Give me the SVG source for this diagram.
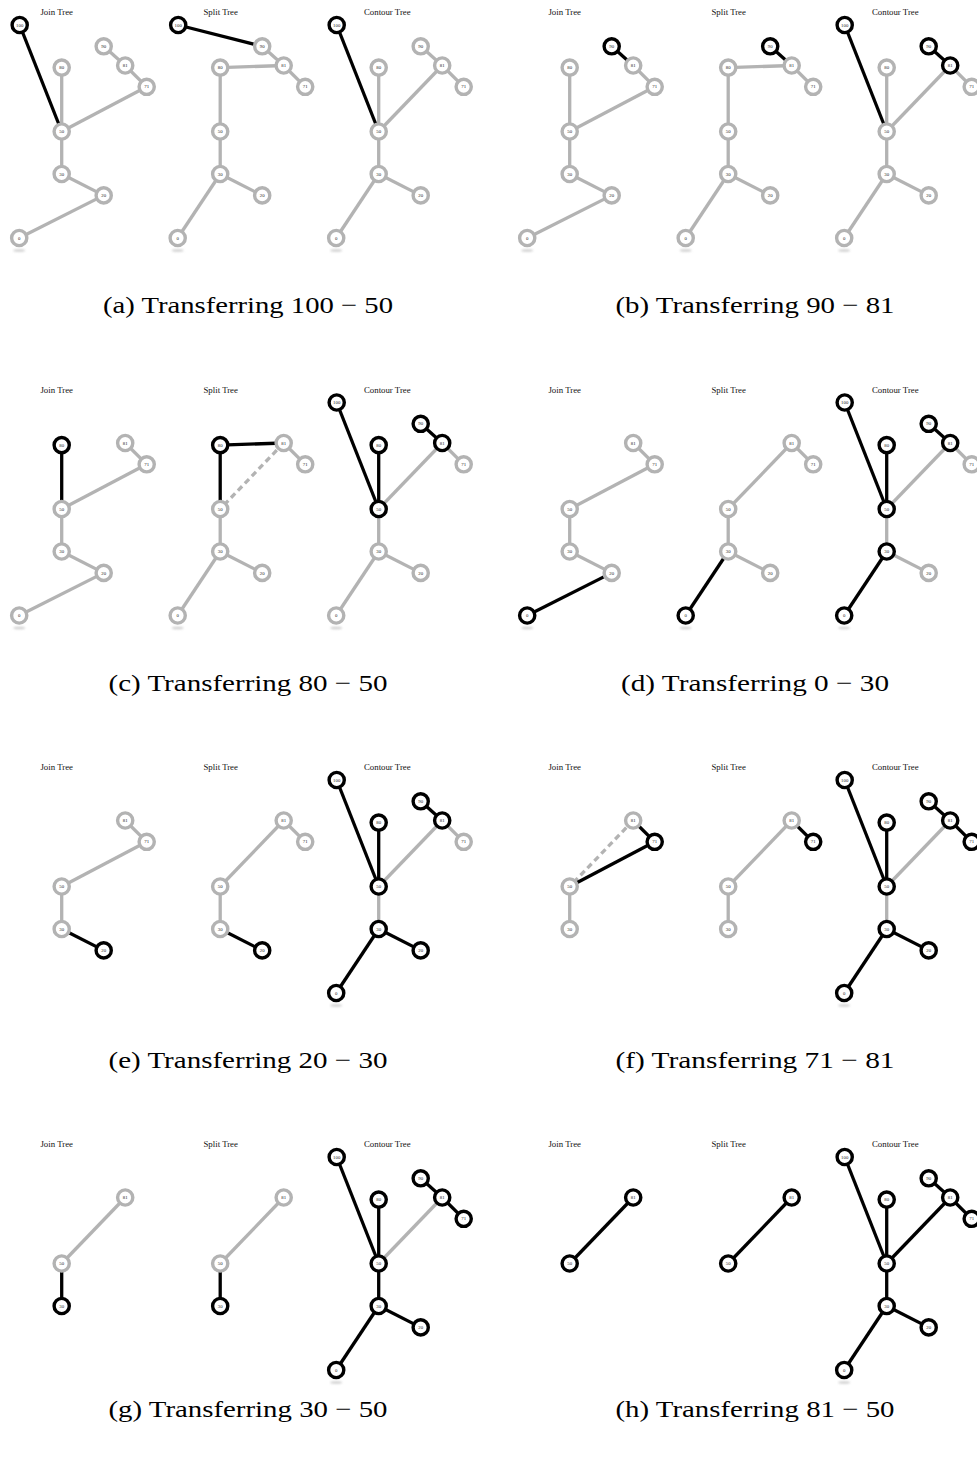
<svg xmlns="http://www.w3.org/2000/svg" width="977" height="1457" viewBox="0 0 977 1457">
  <defs>
    <filter id="soft" x="-50%" y="-200%" width="200%" height="500%">
      <feGaussianBlur stdDeviation="0.8"/>
    </filter>
  </defs>
  <style>
    line { stroke-width: 3.3; fill: none; }
    .eg { stroke: #b3b3b3; }
    .ek { stroke: #000; }
    .ed { stroke: #b3b3b3; stroke-dasharray: 6 4; }
    circle { fill: #fff; stroke-width: 3.4; }
    .ng circle { stroke: #b3b3b3; }
    .nk circle { stroke: #000; }
    .lbl { font-family: "Liberation Serif", serif; font-size: 4.8px; text-anchor: middle; fill: #222; }
    .ttl { font-family: "Liberation Serif", serif; font-size: 8.8px; text-anchor: middle; fill: #111; }
    .cap { font-family: "Liberation Serif", serif; font-size: 24px; text-anchor: middle; fill: #000; }
    .shadow { fill: #cfcfcf; filter: url(#soft); }
  </style>
  <rect width="977" height="1457" fill="#fff"/>

  <!-- ===== (a) ===== -->
  <g id="a-join" transform="translate(61.7,0)">
    <text class="ttl" x="-5" y="15">Join Tree</text>
    <g id="a-join-edges">
      <line class="eg" x1="42" y1="46.3" x2="63.5" y2="65.5"/>
      <line class="eg" x1="63.5" y1="65.5" x2="85" y2="86.8"/>
      <line class="eg" x1="85" y1="86.8" x2="0" y2="131.5"/>
      <line class="eg" x1="0" y1="67.6" x2="0" y2="131.5"/>
      <line class="eg" x1="0" y1="131.5" x2="0" y2="174"/>
      <line class="eg" x1="0" y1="174" x2="42" y2="195.4"/>
      <line class="eg" x1="42" y1="195.4" x2="-42.5" y2="238"/>
      <line class="ek" x1="-42" y1="25" x2="0" y2="131.5"/>
    </g>
    <g id="a-join-100" class="nk" transform="translate(-42,25)"><circle r="7.6"/><text class="lbl" y="1.6">100</text></g>
    <g id="a-join-90" class="ng" transform="translate(42,46.3)"><circle r="7.6"/><text class="lbl" y="1.6">90</text></g>
    <g id="a-join-81" class="ng" transform="translate(63.5,65.5)"><circle r="7.6"/><text class="lbl" y="1.6">81</text></g>
    <g id="a-join-80" class="ng" transform="translate(0,67.6)"><circle r="7.6"/><text class="lbl" y="1.6">80</text></g>
    <g id="a-join-71" class="ng" transform="translate(85,86.8)"><circle r="7.6"/><text class="lbl" y="1.6">71</text></g>
    <g id="a-join-50" class="ng" transform="translate(0,131.5)"><circle r="7.6"/><text class="lbl" y="1.6">50</text></g>
    <g id="a-join-30" class="ng" transform="translate(0,174)"><circle r="7.6"/><text class="lbl" y="1.6">30</text></g>
    <g id="a-join-20" class="ng" transform="translate(42,195.4)"><circle r="7.6"/><text class="lbl" y="1.6">20</text></g>
    <g id="a-join-0" class="ng" transform="translate(-42.5,238)"><ellipse class="shadow" cx="0" cy="12.5" rx="6" ry="1.3"/><circle r="7.6"/><text class="lbl" y="1.6">0</text></g>
  </g>
  <g id="a-split" transform="translate(220.2,0)">
    <text class="ttl" x="0.5" y="15">Split Tree</text>
    <g id="a-split-edges">
      <line class="eg" x1="42" y1="46.3" x2="63.5" y2="65.5"/>
      <line class="eg" x1="63.5" y1="65.5" x2="0" y2="67.6"/>
      <line class="eg" x1="63.5" y1="65.5" x2="85" y2="86.8"/>
      <line class="eg" x1="0" y1="67.6" x2="0" y2="131.5"/>
      <line class="eg" x1="0" y1="131.5" x2="0" y2="174"/>
      <line class="eg" x1="0" y1="174" x2="42" y2="195.4"/>
      <line class="eg" x1="0" y1="174" x2="-42.5" y2="238"/>
      <line class="ek" x1="-42" y1="25" x2="42" y2="46.3"/>
    </g>
    <g id="a-split-100" class="nk" transform="translate(-42,25)"><circle r="7.6"/><text class="lbl" y="1.6">100</text></g>
    <g id="a-split-90" class="ng" transform="translate(42,46.3)"><circle r="7.6"/><text class="lbl" y="1.6">90</text></g>
    <g id="a-split-81" class="ng" transform="translate(63.5,65.5)"><circle r="7.6"/><text class="lbl" y="1.6">81</text></g>
    <g id="a-split-80" class="ng" transform="translate(0,67.6)"><circle r="7.6"/><text class="lbl" y="1.6">80</text></g>
    <g id="a-split-71" class="ng" transform="translate(85,86.8)"><circle r="7.6"/><text class="lbl" y="1.6">71</text></g>
    <g id="a-split-50" class="ng" transform="translate(0,131.5)"><circle r="7.6"/><text class="lbl" y="1.6">50</text></g>
    <g id="a-split-30" class="ng" transform="translate(0,174)"><circle r="7.6"/><text class="lbl" y="1.6">30</text></g>
    <g id="a-split-20" class="ng" transform="translate(42,195.4)"><circle r="7.6"/><text class="lbl" y="1.6">20</text></g>
    <g id="a-split-0" class="ng" transform="translate(-42.5,238)"><ellipse class="shadow" cx="0" cy="12.5" rx="6" ry="1.3"/><circle r="7.6"/><text class="lbl" y="1.6">0</text></g>
  </g>
  <g id="a-contour" transform="translate(378.7,0)">
    <text class="ttl" x="8.6" y="15">Contour Tree</text>
    <g id="a-contour-edges">
      <line class="eg" x1="42" y1="46.3" x2="63.5" y2="65.5"/>
      <line class="eg" x1="63.5" y1="65.5" x2="0" y2="131.5"/>
      <line class="eg" x1="63.5" y1="65.5" x2="85" y2="86.8"/>
      <line class="eg" x1="0" y1="67.6" x2="0" y2="131.5"/>
      <line class="eg" x1="0" y1="131.5" x2="0" y2="174"/>
      <line class="eg" x1="0" y1="174" x2="42" y2="195.4"/>
      <line class="eg" x1="0" y1="174" x2="-42.5" y2="238"/>
      <line class="ek" x1="-42" y1="25" x2="0" y2="131.5"/>
    </g>
    <g id="a-contour-100" class="nk" transform="translate(-42,25)"><circle r="7.6"/><text class="lbl" y="1.6">100</text></g>
    <g id="a-contour-90" class="ng" transform="translate(42,46.3)"><circle r="7.6"/><text class="lbl" y="1.6">90</text></g>
    <g id="a-contour-81" class="ng" transform="translate(63.5,65.5)"><circle r="7.6"/><text class="lbl" y="1.6">81</text></g>
    <g id="a-contour-80" class="ng" transform="translate(0,67.6)"><circle r="7.6"/><text class="lbl" y="1.6">80</text></g>
    <g id="a-contour-71" class="ng" transform="translate(85,86.8)"><circle r="7.6"/><text class="lbl" y="1.6">71</text></g>
    <g id="a-contour-50" class="ng" transform="translate(0,131.5)"><circle r="7.6"/><text class="lbl" y="1.6">50</text></g>
    <g id="a-contour-30" class="ng" transform="translate(0,174)"><circle r="7.6"/><text class="lbl" y="1.6">30</text></g>
    <g id="a-contour-20" class="ng" transform="translate(42,195.4)"><circle r="7.6"/><text class="lbl" y="1.6">20</text></g>
    <g id="a-contour-0" class="ng" transform="translate(-42.5,238)"><ellipse class="shadow" cx="0" cy="12.5" rx="6" ry="1.3"/><circle r="7.6"/><text class="lbl" y="1.6">0</text></g>
  </g>
  <text class="cap" x="248" y="313" textLength="290" lengthAdjust="spacingAndGlyphs">(a) Transferring 100 − 50</text>

  <!-- ===== (b) ===== -->
  <g id="b-join" transform="translate(569.7,0)">
    <text class="ttl" x="-5" y="15">Join Tree</text>
    <g id="b-join-edges">
      <line class="eg" x1="63.5" y1="65.5" x2="85" y2="86.8"/>
      <line class="eg" x1="85" y1="86.8" x2="0" y2="131.5"/>
      <line class="eg" x1="0" y1="67.6" x2="0" y2="131.5"/>
      <line class="eg" x1="0" y1="131.5" x2="0" y2="174"/>
      <line class="eg" x1="0" y1="174" x2="42" y2="195.4"/>
      <line class="eg" x1="42" y1="195.4" x2="-42.5" y2="238"/>
      <line class="ek" x1="42" y1="46.3" x2="63.5" y2="65.5"/>
    </g>
    <g id="b-join-90" class="nk" transform="translate(42,46.3)"><circle r="7.6"/><text class="lbl" y="1.6">90</text></g>
    <g id="b-join-81" class="ng" transform="translate(63.5,65.5)"><circle r="7.6"/><text class="lbl" y="1.6">81</text></g>
    <g id="b-join-80" class="ng" transform="translate(0,67.6)"><circle r="7.6"/><text class="lbl" y="1.6">80</text></g>
    <g id="b-join-71" class="ng" transform="translate(85,86.8)"><circle r="7.6"/><text class="lbl" y="1.6">71</text></g>
    <g id="b-join-50" class="ng" transform="translate(0,131.5)"><circle r="7.6"/><text class="lbl" y="1.6">50</text></g>
    <g id="b-join-30" class="ng" transform="translate(0,174)"><circle r="7.6"/><text class="lbl" y="1.6">30</text></g>
    <g id="b-join-20" class="ng" transform="translate(42,195.4)"><circle r="7.6"/><text class="lbl" y="1.6">20</text></g>
    <g id="b-join-0" class="ng" transform="translate(-42.5,238)"><ellipse class="shadow" cx="0" cy="12.5" rx="6" ry="1.3"/><circle r="7.6"/><text class="lbl" y="1.6">0</text></g>
  </g>
  <g id="b-split" transform="translate(728.2,0)">
    <text class="ttl" x="0.5" y="15">Split Tree</text>
    <g id="b-split-edges">
      <line class="eg" x1="63.5" y1="65.5" x2="0" y2="67.6"/>
      <line class="eg" x1="63.5" y1="65.5" x2="85" y2="86.8"/>
      <line class="eg" x1="0" y1="67.6" x2="0" y2="131.5"/>
      <line class="eg" x1="0" y1="131.5" x2="0" y2="174"/>
      <line class="eg" x1="0" y1="174" x2="42" y2="195.4"/>
      <line class="eg" x1="0" y1="174" x2="-42.5" y2="238"/>
      <line class="ek" x1="42" y1="46.3" x2="63.5" y2="65.5"/>
    </g>
    <g id="b-split-90" class="nk" transform="translate(42,46.3)"><circle r="7.6"/><text class="lbl" y="1.6">90</text></g>
    <g id="b-split-81" class="ng" transform="translate(63.5,65.5)"><circle r="7.6"/><text class="lbl" y="1.6">81</text></g>
    <g id="b-split-80" class="ng" transform="translate(0,67.6)"><circle r="7.6"/><text class="lbl" y="1.6">80</text></g>
    <g id="b-split-71" class="ng" transform="translate(85,86.8)"><circle r="7.6"/><text class="lbl" y="1.6">71</text></g>
    <g id="b-split-50" class="ng" transform="translate(0,131.5)"><circle r="7.6"/><text class="lbl" y="1.6">50</text></g>
    <g id="b-split-30" class="ng" transform="translate(0,174)"><circle r="7.6"/><text class="lbl" y="1.6">30</text></g>
    <g id="b-split-20" class="ng" transform="translate(42,195.4)"><circle r="7.6"/><text class="lbl" y="1.6">20</text></g>
    <g id="b-split-0" class="ng" transform="translate(-42.5,238)"><ellipse class="shadow" cx="0" cy="12.5" rx="6" ry="1.3"/><circle r="7.6"/><text class="lbl" y="1.6">0</text></g>
  </g>
  <g id="b-contour" transform="translate(886.7,0)">
    <text class="ttl" x="8.6" y="15">Contour Tree</text>
    <g id="b-contour-edges">
      <line class="eg" x1="63.5" y1="65.5" x2="0" y2="131.5"/>
      <line class="eg" x1="63.5" y1="65.5" x2="85" y2="86.8"/>
      <line class="eg" x1="0" y1="67.6" x2="0" y2="131.5"/>
      <line class="eg" x1="0" y1="131.5" x2="0" y2="174"/>
      <line class="eg" x1="0" y1="174" x2="42" y2="195.4"/>
      <line class="eg" x1="0" y1="174" x2="-42.5" y2="238"/>
      <line class="ek" x1="-42" y1="25" x2="0" y2="131.5"/>
      <line class="ek" x1="42" y1="46.3" x2="63.5" y2="65.5"/>
    </g>
    <g id="b-contour-100" class="nk" transform="translate(-42,25)"><circle r="7.6"/><text class="lbl" y="1.6">100</text></g>
    <g id="b-contour-90" class="nk" transform="translate(42,46.3)"><circle r="7.6"/><text class="lbl" y="1.6">90</text></g>
    <g id="b-contour-81" class="nk" transform="translate(63.5,65.5)"><circle r="7.6"/><text class="lbl" y="1.6">81</text></g>
    <g id="b-contour-80" class="ng" transform="translate(0,67.6)"><circle r="7.6"/><text class="lbl" y="1.6">80</text></g>
    <g id="b-contour-71" class="ng" transform="translate(85,86.8)"><circle r="7.6"/><text class="lbl" y="1.6">71</text></g>
    <g id="b-contour-50" class="ng" transform="translate(0,131.5)"><circle r="7.6"/><text class="lbl" y="1.6">50</text></g>
    <g id="b-contour-30" class="ng" transform="translate(0,174)"><circle r="7.6"/><text class="lbl" y="1.6">30</text></g>
    <g id="b-contour-20" class="ng" transform="translate(42,195.4)"><circle r="7.6"/><text class="lbl" y="1.6">20</text></g>
    <g id="b-contour-0" class="ng" transform="translate(-42.5,238)"><ellipse class="shadow" cx="0" cy="12.5" rx="6" ry="1.3"/><circle r="7.6"/><text class="lbl" y="1.6">0</text></g>
  </g>
  <text class="cap" x="755" y="313" textLength="279" lengthAdjust="spacingAndGlyphs">(b) Transferring 90 − 81</text>

  <!-- ===== (c) ===== -->
  <g id="c-join" transform="translate(61.7,377.5)">
    <text class="ttl" x="-5" y="15">Join Tree</text>
    <g id="c-join-edges">
      <line class="eg" x1="63.5" y1="65.5" x2="85" y2="86.8"/>
      <line class="eg" x1="85" y1="86.8" x2="0" y2="131.5"/>
      <line class="eg" x1="0" y1="131.5" x2="0" y2="174"/>
      <line class="eg" x1="0" y1="174" x2="42" y2="195.4"/>
      <line class="eg" x1="42" y1="195.4" x2="-42.5" y2="238"/>
      <line class="ek" x1="0" y1="67.6" x2="0" y2="131.5"/>
    </g>
    <g id="c-join-81" class="ng" transform="translate(63.5,65.5)"><circle r="7.6"/><text class="lbl" y="1.6">81</text></g>
    <g id="c-join-80" class="nk" transform="translate(0,67.6)"><circle r="7.6"/><text class="lbl" y="1.6">80</text></g>
    <g id="c-join-71" class="ng" transform="translate(85,86.8)"><circle r="7.6"/><text class="lbl" y="1.6">71</text></g>
    <g id="c-join-50" class="ng" transform="translate(0,131.5)"><circle r="7.6"/><text class="lbl" y="1.6">50</text></g>
    <g id="c-join-30" class="ng" transform="translate(0,174)"><circle r="7.6"/><text class="lbl" y="1.6">30</text></g>
    <g id="c-join-20" class="ng" transform="translate(42,195.4)"><circle r="7.6"/><text class="lbl" y="1.6">20</text></g>
    <g id="c-join-0" class="ng" transform="translate(-42.5,238)"><ellipse class="shadow" cx="0" cy="12.5" rx="6" ry="1.3"/><circle r="7.6"/><text class="lbl" y="1.6">0</text></g>
  </g>
  <g id="c-split" transform="translate(220.2,377.5)">
    <text class="ttl" x="0.5" y="15">Split Tree</text>
    <g id="c-split-edges">
      <line class="ed" x1="63.5" y1="65.5" x2="0" y2="131.5"/>
      <line class="eg" x1="63.5" y1="65.5" x2="85" y2="86.8"/>
      <line class="eg" x1="0" y1="131.5" x2="0" y2="174"/>
      <line class="eg" x1="0" y1="174" x2="42" y2="195.4"/>
      <line class="eg" x1="0" y1="174" x2="-42.5" y2="238"/>
      <line class="ek" x1="0" y1="67.6" x2="63.5" y2="65.5"/>
      <line class="ek" x1="0" y1="67.6" x2="0" y2="131.5"/>
    </g>
    <g id="c-split-81" class="ng" transform="translate(63.5,65.5)"><circle r="7.6"/><text class="lbl" y="1.6">81</text></g>
    <g id="c-split-80" class="nk" transform="translate(0,67.6)"><circle r="7.6"/><text class="lbl" y="1.6">80</text></g>
    <g id="c-split-71" class="ng" transform="translate(85,86.8)"><circle r="7.6"/><text class="lbl" y="1.6">71</text></g>
    <g id="c-split-50" class="ng" transform="translate(0,131.5)"><circle r="7.6"/><text class="lbl" y="1.6">50</text></g>
    <g id="c-split-30" class="ng" transform="translate(0,174)"><circle r="7.6"/><text class="lbl" y="1.6">30</text></g>
    <g id="c-split-20" class="ng" transform="translate(42,195.4)"><circle r="7.6"/><text class="lbl" y="1.6">20</text></g>
    <g id="c-split-0" class="ng" transform="translate(-42.5,238)"><ellipse class="shadow" cx="0" cy="12.5" rx="6" ry="1.3"/><circle r="7.6"/><text class="lbl" y="1.6">0</text></g>
  </g>
  <g id="c-contour" transform="translate(378.7,377.5)">
    <text class="ttl" x="8.6" y="15">Contour Tree</text>
    <g id="c-contour-edges">
      <line class="eg" x1="63.5" y1="65.5" x2="0" y2="131.5"/>
      <line class="eg" x1="63.5" y1="65.5" x2="85" y2="86.8"/>
      <line class="eg" x1="0" y1="131.5" x2="0" y2="174"/>
      <line class="eg" x1="0" y1="174" x2="42" y2="195.4"/>
      <line class="eg" x1="0" y1="174" x2="-42.5" y2="238"/>
      <line class="ek" x1="-42" y1="25" x2="0" y2="131.5"/>
      <line class="ek" x1="42" y1="46.3" x2="63.5" y2="65.5"/>
      <line class="ek" x1="0" y1="67.6" x2="0" y2="131.5"/>
    </g>
    <g id="c-contour-100" class="nk" transform="translate(-42,25)"><circle r="7.6"/><text class="lbl" y="1.6">100</text></g>
    <g id="c-contour-90" class="nk" transform="translate(42,46.3)"><circle r="7.6"/><text class="lbl" y="1.6">90</text></g>
    <g id="c-contour-81" class="nk" transform="translate(63.5,65.5)"><circle r="7.6"/><text class="lbl" y="1.6">81</text></g>
    <g id="c-contour-80" class="nk" transform="translate(0,67.6)"><circle r="7.6"/><text class="lbl" y="1.6">80</text></g>
    <g id="c-contour-71" class="ng" transform="translate(85,86.8)"><circle r="7.6"/><text class="lbl" y="1.6">71</text></g>
    <g id="c-contour-50" class="nk" transform="translate(0,131.5)"><circle r="7.6"/><text class="lbl" y="1.6">50</text></g>
    <g id="c-contour-30" class="ng" transform="translate(0,174)"><circle r="7.6"/><text class="lbl" y="1.6">30</text></g>
    <g id="c-contour-20" class="ng" transform="translate(42,195.4)"><circle r="7.6"/><text class="lbl" y="1.6">20</text></g>
    <g id="c-contour-0" class="ng" transform="translate(-42.5,238)"><ellipse class="shadow" cx="0" cy="12.5" rx="6" ry="1.3"/><circle r="7.6"/><text class="lbl" y="1.6">0</text></g>
  </g>
  <text class="cap" x="248" y="690.5" textLength="279" lengthAdjust="spacingAndGlyphs">(c) Transferring 80 − 50</text>

  <!-- ===== (d) ===== -->
  <g id="d-join" transform="translate(569.7,377.5)">
    <text class="ttl" x="-5" y="15">Join Tree</text>
    <g id="d-join-edges">
      <line class="eg" x1="63.5" y1="65.5" x2="85" y2="86.8"/>
      <line class="eg" x1="85" y1="86.8" x2="0" y2="131.5"/>
      <line class="eg" x1="0" y1="131.5" x2="0" y2="174"/>
      <line class="eg" x1="0" y1="174" x2="42" y2="195.4"/>
      <line class="ek" x1="42" y1="195.4" x2="-42.5" y2="238"/>
    </g>
    <g id="d-join-81" class="ng" transform="translate(63.5,65.5)"><circle r="7.6"/><text class="lbl" y="1.6">81</text></g>
    <g id="d-join-71" class="ng" transform="translate(85,86.8)"><circle r="7.6"/><text class="lbl" y="1.6">71</text></g>
    <g id="d-join-50" class="ng" transform="translate(0,131.5)"><circle r="7.6"/><text class="lbl" y="1.6">50</text></g>
    <g id="d-join-30" class="ng" transform="translate(0,174)"><circle r="7.6"/><text class="lbl" y="1.6">30</text></g>
    <g id="d-join-20" class="ng" transform="translate(42,195.4)"><circle r="7.6"/><text class="lbl" y="1.6">20</text></g>
    <g id="d-join-0" class="nk" transform="translate(-42.5,238)"><ellipse class="shadow" cx="0" cy="12.5" rx="6" ry="1.3"/><circle r="7.6"/><text class="lbl" y="1.6">0</text></g>
  </g>
  <g id="d-split" transform="translate(728.2,377.5)">
    <text class="ttl" x="0.5" y="15">Split Tree</text>
    <g id="d-split-edges">
      <line class="eg" x1="63.5" y1="65.5" x2="0" y2="131.5"/>
      <line class="eg" x1="63.5" y1="65.5" x2="85" y2="86.8"/>
      <line class="eg" x1="0" y1="131.5" x2="0" y2="174"/>
      <line class="eg" x1="0" y1="174" x2="42" y2="195.4"/>
      <line class="ek" x1="0" y1="174" x2="-42.5" y2="238"/>
    </g>
    <g id="d-split-81" class="ng" transform="translate(63.5,65.5)"><circle r="7.6"/><text class="lbl" y="1.6">81</text></g>
    <g id="d-split-71" class="ng" transform="translate(85,86.8)"><circle r="7.6"/><text class="lbl" y="1.6">71</text></g>
    <g id="d-split-50" class="ng" transform="translate(0,131.5)"><circle r="7.6"/><text class="lbl" y="1.6">50</text></g>
    <g id="d-split-30" class="ng" transform="translate(0,174)"><circle r="7.6"/><text class="lbl" y="1.6">30</text></g>
    <g id="d-split-20" class="ng" transform="translate(42,195.4)"><circle r="7.6"/><text class="lbl" y="1.6">20</text></g>
    <g id="d-split-0" class="nk" transform="translate(-42.5,238)"><ellipse class="shadow" cx="0" cy="12.5" rx="6" ry="1.3"/><circle r="7.6"/><text class="lbl" y="1.6">0</text></g>
  </g>
  <g id="d-contour" transform="translate(886.7,377.5)">
    <text class="ttl" x="8.6" y="15">Contour Tree</text>
    <g id="d-contour-edges">
      <line class="eg" x1="63.5" y1="65.5" x2="0" y2="131.5"/>
      <line class="eg" x1="63.5" y1="65.5" x2="85" y2="86.8"/>
      <line class="eg" x1="0" y1="131.5" x2="0" y2="174"/>
      <line class="eg" x1="0" y1="174" x2="42" y2="195.4"/>
      <line class="ek" x1="-42" y1="25" x2="0" y2="131.5"/>
      <line class="ek" x1="42" y1="46.3" x2="63.5" y2="65.5"/>
      <line class="ek" x1="0" y1="67.6" x2="0" y2="131.5"/>
      <line class="ek" x1="0" y1="174" x2="-42.5" y2="238"/>
    </g>
    <g id="d-contour-100" class="nk" transform="translate(-42,25)"><circle r="7.6"/><text class="lbl" y="1.6">100</text></g>
    <g id="d-contour-90" class="nk" transform="translate(42,46.3)"><circle r="7.6"/><text class="lbl" y="1.6">90</text></g>
    <g id="d-contour-81" class="nk" transform="translate(63.5,65.5)"><circle r="7.6"/><text class="lbl" y="1.6">81</text></g>
    <g id="d-contour-80" class="nk" transform="translate(0,67.6)"><circle r="7.6"/><text class="lbl" y="1.6">80</text></g>
    <g id="d-contour-71" class="ng" transform="translate(85,86.8)"><circle r="7.6"/><text class="lbl" y="1.6">71</text></g>
    <g id="d-contour-50" class="nk" transform="translate(0,131.5)"><circle r="7.6"/><text class="lbl" y="1.6">50</text></g>
    <g id="d-contour-30" class="nk" transform="translate(0,174)"><circle r="7.6"/><text class="lbl" y="1.6">30</text></g>
    <g id="d-contour-20" class="ng" transform="translate(42,195.4)"><circle r="7.6"/><text class="lbl" y="1.6">20</text></g>
    <g id="d-contour-0" class="nk" transform="translate(-42.5,238)"><ellipse class="shadow" cx="0" cy="12.5" rx="6" ry="1.3"/><circle r="7.6"/><text class="lbl" y="1.6">0</text></g>
  </g>
  <text class="cap" x="755" y="690.5" textLength="268" lengthAdjust="spacingAndGlyphs">(d) Transferring 0 − 30</text>

  <!-- ===== (e) ===== -->
  <g id="e-join" transform="translate(61.7,755)">
    <text class="ttl" x="-5" y="15">Join Tree</text>
    <g id="e-join-edges">
      <line class="eg" x1="63.5" y1="65.5" x2="85" y2="86.8"/>
      <line class="eg" x1="85" y1="86.8" x2="0" y2="131.5"/>
      <line class="eg" x1="0" y1="131.5" x2="0" y2="174"/>
      <line class="ek" x1="0" y1="174" x2="42" y2="195.4"/>
    </g>
    <g id="e-join-81" class="ng" transform="translate(63.5,65.5)"><circle r="7.6"/><text class="lbl" y="1.6">81</text></g>
    <g id="e-join-71" class="ng" transform="translate(85,86.8)"><circle r="7.6"/><text class="lbl" y="1.6">71</text></g>
    <g id="e-join-50" class="ng" transform="translate(0,131.5)"><circle r="7.6"/><text class="lbl" y="1.6">50</text></g>
    <g id="e-join-30" class="ng" transform="translate(0,174)"><circle r="7.6"/><text class="lbl" y="1.6">30</text></g>
    <g id="e-join-20" class="nk" transform="translate(42,195.4)"><circle r="7.6"/><text class="lbl" y="1.6">20</text></g>
  </g>
  <g id="e-split" transform="translate(220.2,755)">
    <text class="ttl" x="0.5" y="15">Split Tree</text>
    <g id="e-split-edges">
      <line class="eg" x1="63.5" y1="65.5" x2="0" y2="131.5"/>
      <line class="eg" x1="63.5" y1="65.5" x2="85" y2="86.8"/>
      <line class="eg" x1="0" y1="131.5" x2="0" y2="174"/>
      <line class="ek" x1="0" y1="174" x2="42" y2="195.4"/>
    </g>
    <g id="e-split-81" class="ng" transform="translate(63.5,65.5)"><circle r="7.6"/><text class="lbl" y="1.6">81</text></g>
    <g id="e-split-71" class="ng" transform="translate(85,86.8)"><circle r="7.6"/><text class="lbl" y="1.6">71</text></g>
    <g id="e-split-50" class="ng" transform="translate(0,131.5)"><circle r="7.6"/><text class="lbl" y="1.6">50</text></g>
    <g id="e-split-30" class="ng" transform="translate(0,174)"><circle r="7.6"/><text class="lbl" y="1.6">30</text></g>
    <g id="e-split-20" class="nk" transform="translate(42,195.4)"><circle r="7.6"/><text class="lbl" y="1.6">20</text></g>
  </g>
  <g id="e-contour" transform="translate(378.7,755)">
    <text class="ttl" x="8.6" y="15">Contour Tree</text>
    <g id="e-contour-edges">
      <line class="eg" x1="63.5" y1="65.5" x2="0" y2="131.5"/>
      <line class="eg" x1="63.5" y1="65.5" x2="85" y2="86.8"/>
      <line class="eg" x1="0" y1="131.5" x2="0" y2="174"/>
      <line class="ek" x1="-42" y1="25" x2="0" y2="131.5"/>
      <line class="ek" x1="42" y1="46.3" x2="63.5" y2="65.5"/>
      <line class="ek" x1="0" y1="67.6" x2="0" y2="131.5"/>
      <line class="ek" x1="0" y1="174" x2="42" y2="195.4"/>
      <line class="ek" x1="0" y1="174" x2="-42.5" y2="238"/>
    </g>
    <g id="e-contour-100" class="nk" transform="translate(-42,25)"><circle r="7.6"/><text class="lbl" y="1.6">100</text></g>
    <g id="e-contour-90" class="nk" transform="translate(42,46.3)"><circle r="7.6"/><text class="lbl" y="1.6">90</text></g>
    <g id="e-contour-81" class="nk" transform="translate(63.5,65.5)"><circle r="7.6"/><text class="lbl" y="1.6">81</text></g>
    <g id="e-contour-80" class="nk" transform="translate(0,67.6)"><circle r="7.6"/><text class="lbl" y="1.6">80</text></g>
    <g id="e-contour-71" class="ng" transform="translate(85,86.8)"><circle r="7.6"/><text class="lbl" y="1.6">71</text></g>
    <g id="e-contour-50" class="nk" transform="translate(0,131.5)"><circle r="7.6"/><text class="lbl" y="1.6">50</text></g>
    <g id="e-contour-30" class="nk" transform="translate(0,174)"><circle r="7.6"/><text class="lbl" y="1.6">30</text></g>
    <g id="e-contour-20" class="nk" transform="translate(42,195.4)"><circle r="7.6"/><text class="lbl" y="1.6">20</text></g>
    <g id="e-contour-0" class="nk" transform="translate(-42.5,238)"><ellipse class="shadow" cx="0" cy="12.5" rx="6" ry="1.3"/><circle r="7.6"/><text class="lbl" y="1.6">0</text></g>
  </g>
  <text class="cap" x="248" y="1068" textLength="279" lengthAdjust="spacingAndGlyphs">(e) Transferring 20 − 30</text>

  <!-- ===== (f) ===== -->
  <g id="f-join" transform="translate(569.7,755)">
    <text class="ttl" x="-5" y="15">Join Tree</text>
    <g id="f-join-edges">
      <line class="ed" x1="63.5" y1="65.5" x2="0" y2="131.5"/>
      <line class="eg" x1="0" y1="131.5" x2="0" y2="174"/>
      <line class="ek" x1="63.5" y1="65.5" x2="85" y2="86.8"/>
      <line class="ek" x1="85" y1="86.8" x2="0" y2="131.5"/>
    </g>
    <g id="f-join-81" class="ng" transform="translate(63.5,65.5)"><circle r="7.6"/><text class="lbl" y="1.6">81</text></g>
    <g id="f-join-71" class="nk" transform="translate(85,86.8)"><circle r="7.6"/><text class="lbl" y="1.6">71</text></g>
    <g id="f-join-50" class="ng" transform="translate(0,131.5)"><circle r="7.6"/><text class="lbl" y="1.6">50</text></g>
    <g id="f-join-30" class="ng" transform="translate(0,174)"><circle r="7.6"/><text class="lbl" y="1.6">30</text></g>
  </g>
  <g id="f-split" transform="translate(728.2,755)">
    <text class="ttl" x="0.5" y="15">Split Tree</text>
    <g id="f-split-edges">
      <line class="eg" x1="63.5" y1="65.5" x2="0" y2="131.5"/>
      <line class="eg" x1="0" y1="131.5" x2="0" y2="174"/>
      <line class="ek" x1="63.5" y1="65.5" x2="85" y2="86.8"/>
    </g>
    <g id="f-split-81" class="ng" transform="translate(63.5,65.5)"><circle r="7.6"/><text class="lbl" y="1.6">81</text></g>
    <g id="f-split-71" class="nk" transform="translate(85,86.8)"><circle r="7.6"/><text class="lbl" y="1.6">71</text></g>
    <g id="f-split-50" class="ng" transform="translate(0,131.5)"><circle r="7.6"/><text class="lbl" y="1.6">50</text></g>
    <g id="f-split-30" class="ng" transform="translate(0,174)"><circle r="7.6"/><text class="lbl" y="1.6">30</text></g>
  </g>
  <g id="f-contour" transform="translate(886.7,755)">
    <text class="ttl" x="8.6" y="15">Contour Tree</text>
    <g id="f-contour-edges">
      <line class="eg" x1="63.5" y1="65.5" x2="0" y2="131.5"/>
      <line class="eg" x1="0" y1="131.5" x2="0" y2="174"/>
      <line class="ek" x1="-42" y1="25" x2="0" y2="131.5"/>
      <line class="ek" x1="42" y1="46.3" x2="63.5" y2="65.5"/>
      <line class="ek" x1="63.5" y1="65.5" x2="85" y2="86.8"/>
      <line class="ek" x1="0" y1="67.6" x2="0" y2="131.5"/>
      <line class="ek" x1="0" y1="174" x2="42" y2="195.4"/>
      <line class="ek" x1="0" y1="174" x2="-42.5" y2="238"/>
    </g>
    <g id="f-contour-100" class="nk" transform="translate(-42,25)"><circle r="7.6"/><text class="lbl" y="1.6">100</text></g>
    <g id="f-contour-90" class="nk" transform="translate(42,46.3)"><circle r="7.6"/><text class="lbl" y="1.6">90</text></g>
    <g id="f-contour-81" class="nk" transform="translate(63.5,65.5)"><circle r="7.6"/><text class="lbl" y="1.6">81</text></g>
    <g id="f-contour-80" class="nk" transform="translate(0,67.6)"><circle r="7.6"/><text class="lbl" y="1.6">80</text></g>
    <g id="f-contour-71" class="nk" transform="translate(85,86.8)"><circle r="7.6"/><text class="lbl" y="1.6">71</text></g>
    <g id="f-contour-50" class="nk" transform="translate(0,131.5)"><circle r="7.6"/><text class="lbl" y="1.6">50</text></g>
    <g id="f-contour-30" class="nk" transform="translate(0,174)"><circle r="7.6"/><text class="lbl" y="1.6">30</text></g>
    <g id="f-contour-20" class="nk" transform="translate(42,195.4)"><circle r="7.6"/><text class="lbl" y="1.6">20</text></g>
    <g id="f-contour-0" class="nk" transform="translate(-42.5,238)"><ellipse class="shadow" cx="0" cy="12.5" rx="6" ry="1.3"/><circle r="7.6"/><text class="lbl" y="1.6">0</text></g>
  </g>
  <text class="cap" x="755" y="1068" textLength="279" lengthAdjust="spacingAndGlyphs">(f) Transferring 71 − 81</text>

  <!-- ===== (g) ===== -->
  <g id="g-join" transform="translate(61.7,1132)">
    <text class="ttl" x="-5" y="15">Join Tree</text>
    <g id="g-join-edges">
      <line class="eg" x1="63.5" y1="65.5" x2="0" y2="131.5"/>
      <line class="ek" x1="0" y1="131.5" x2="0" y2="174"/>
    </g>
    <g id="g-join-81" class="ng" transform="translate(63.5,65.5)"><circle r="7.6"/><text class="lbl" y="1.6">81</text></g>
    <g id="g-join-50" class="ng" transform="translate(0,131.5)"><circle r="7.6"/><text class="lbl" y="1.6">50</text></g>
    <g id="g-join-30" class="nk" transform="translate(0,174)"><circle r="7.6"/><text class="lbl" y="1.6">30</text></g>
  </g>
  <g id="g-split" transform="translate(220.2,1132)">
    <text class="ttl" x="0.5" y="15">Split Tree</text>
    <g id="g-split-edges">
      <line class="eg" x1="63.5" y1="65.5" x2="0" y2="131.5"/>
      <line class="ek" x1="0" y1="131.5" x2="0" y2="174"/>
    </g>
    <g id="g-split-81" class="ng" transform="translate(63.5,65.5)"><circle r="7.6"/><text class="lbl" y="1.6">81</text></g>
    <g id="g-split-50" class="ng" transform="translate(0,131.5)"><circle r="7.6"/><text class="lbl" y="1.6">50</text></g>
    <g id="g-split-30" class="nk" transform="translate(0,174)"><circle r="7.6"/><text class="lbl" y="1.6">30</text></g>
  </g>
  <g id="g-contour" transform="translate(378.7,1132)">
    <text class="ttl" x="8.6" y="15">Contour Tree</text>
    <g id="g-contour-edges">
      <line class="eg" x1="63.5" y1="65.5" x2="0" y2="131.5"/>
      <line class="ek" x1="-42" y1="25" x2="0" y2="131.5"/>
      <line class="ek" x1="42" y1="46.3" x2="63.5" y2="65.5"/>
      <line class="ek" x1="63.5" y1="65.5" x2="85" y2="86.8"/>
      <line class="ek" x1="0" y1="67.6" x2="0" y2="131.5"/>
      <line class="ek" x1="0" y1="131.5" x2="0" y2="174"/>
      <line class="ek" x1="0" y1="174" x2="42" y2="195.4"/>
      <line class="ek" x1="0" y1="174" x2="-42.5" y2="238"/>
    </g>
    <g id="g-contour-100" class="nk" transform="translate(-42,25)"><circle r="7.6"/><text class="lbl" y="1.6">100</text></g>
    <g id="g-contour-90" class="nk" transform="translate(42,46.3)"><circle r="7.6"/><text class="lbl" y="1.6">90</text></g>
    <g id="g-contour-81" class="nk" transform="translate(63.5,65.5)"><circle r="7.6"/><text class="lbl" y="1.6">81</text></g>
    <g id="g-contour-80" class="nk" transform="translate(0,67.6)"><circle r="7.6"/><text class="lbl" y="1.6">80</text></g>
    <g id="g-contour-71" class="nk" transform="translate(85,86.8)"><circle r="7.6"/><text class="lbl" y="1.6">71</text></g>
    <g id="g-contour-50" class="nk" transform="translate(0,131.5)"><circle r="7.6"/><text class="lbl" y="1.6">50</text></g>
    <g id="g-contour-30" class="nk" transform="translate(0,174)"><circle r="7.6"/><text class="lbl" y="1.6">30</text></g>
    <g id="g-contour-20" class="nk" transform="translate(42,195.4)"><circle r="7.6"/><text class="lbl" y="1.6">20</text></g>
    <g id="g-contour-0" class="nk" transform="translate(-42.5,238)"><ellipse class="shadow" cx="0" cy="12.5" rx="6" ry="1.3"/><circle r="7.6"/><text class="lbl" y="1.6">0</text></g>
  </g>
  <text class="cap" x="248" y="1417" textLength="279" lengthAdjust="spacingAndGlyphs">(g) Transferring 30 − 50</text>

  <!-- ===== (h) ===== -->
  <g id="h-join" transform="translate(569.7,1132)">
    <text class="ttl" x="-5" y="15">Join Tree</text>
    <g id="h-join-edges">
      <line class="ek" x1="63.5" y1="65.5" x2="0" y2="131.5"/>
    </g>
    <g id="h-join-81" class="nk" transform="translate(63.5,65.5)"><circle r="7.6"/><text class="lbl" y="1.6">81</text></g>
    <g id="h-join-50" class="nk" transform="translate(0,131.5)"><circle r="7.6"/><text class="lbl" y="1.6">50</text></g>
  </g>
  <g id="h-split" transform="translate(728.2,1132)">
    <text class="ttl" x="0.5" y="15">Split Tree</text>
    <g id="h-split-edges">
      <line class="ek" x1="63.5" y1="65.5" x2="0" y2="131.5"/>
    </g>
    <g id="h-split-81" class="nk" transform="translate(63.5,65.5)"><circle r="7.6"/><text class="lbl" y="1.6">81</text></g>
    <g id="h-split-50" class="nk" transform="translate(0,131.5)"><circle r="7.6"/><text class="lbl" y="1.6">50</text></g>
  </g>
  <g id="h-contour" transform="translate(886.7,1132)">
    <text class="ttl" x="8.6" y="15">Contour Tree</text>
    <g id="h-contour-edges">
      <line class="ek" x1="-42" y1="25" x2="0" y2="131.5"/>
      <line class="ek" x1="42" y1="46.3" x2="63.5" y2="65.5"/>
      <line class="ek" x1="63.5" y1="65.5" x2="85" y2="86.8"/>
      <line class="ek" x1="63.5" y1="65.5" x2="0" y2="131.5"/>
      <line class="ek" x1="0" y1="67.6" x2="0" y2="131.5"/>
      <line class="ek" x1="0" y1="131.5" x2="0" y2="174"/>
      <line class="ek" x1="0" y1="174" x2="42" y2="195.4"/>
      <line class="ek" x1="0" y1="174" x2="-42.5" y2="238"/>
    </g>
    <g id="h-contour-100" class="nk" transform="translate(-42,25)"><circle r="7.6"/><text class="lbl" y="1.6">100</text></g>
    <g id="h-contour-90" class="nk" transform="translate(42,46.3)"><circle r="7.6"/><text class="lbl" y="1.6">90</text></g>
    <g id="h-contour-81" class="nk" transform="translate(63.5,65.5)"><circle r="7.6"/><text class="lbl" y="1.6">81</text></g>
    <g id="h-contour-80" class="nk" transform="translate(0,67.6)"><circle r="7.6"/><text class="lbl" y="1.6">80</text></g>
    <g id="h-contour-71" class="nk" transform="translate(85,86.8)"><circle r="7.6"/><text class="lbl" y="1.6">71</text></g>
    <g id="h-contour-50" class="nk" transform="translate(0,131.5)"><circle r="7.6"/><text class="lbl" y="1.6">50</text></g>
    <g id="h-contour-30" class="nk" transform="translate(0,174)"><circle r="7.6"/><text class="lbl" y="1.6">30</text></g>
    <g id="h-contour-20" class="nk" transform="translate(42,195.4)"><circle r="7.6"/><text class="lbl" y="1.6">20</text></g>
    <g id="h-contour-0" class="nk" transform="translate(-42.5,238)"><ellipse class="shadow" cx="0" cy="12.5" rx="6" ry="1.3"/><circle r="7.6"/><text class="lbl" y="1.6">0</text></g>
  </g>
  <text class="cap" x="755" y="1417" textLength="279" lengthAdjust="spacingAndGlyphs">(h) Transferring 81 − 50</text>
</svg>
